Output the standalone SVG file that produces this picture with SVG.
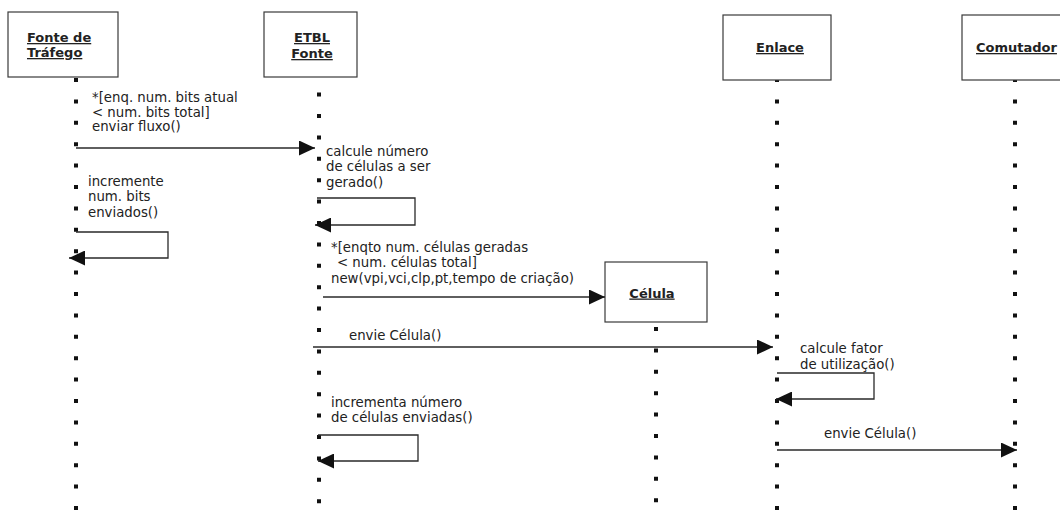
<svg xmlns="http://www.w3.org/2000/svg" width="1060" height="511" viewBox="0 0 1060 511">
  <style>
    .box { fill: #ffffff; stroke: #3a3a3a; stroke-width: 1.2; }
    .name { font-family: "DejaVu Sans", Verdana, sans-serif; font-size: 13px; font-weight: bold; fill: #222; text-decoration: underline; }
    .lbl { font-family: "DejaVu Sans", Verdana, sans-serif; font-size: 13.3px; fill: #222; }
    .life { stroke: #111; stroke-width: 4; stroke-dasharray: 4 17.4; fill: none; }
    .msg { stroke: #2a2a2a; stroke-width: 1.3; fill: none; marker-end: url(#head); }
  </style>
  <defs>
    <marker id="head" viewBox="0 0 16 15" refX="16" refY="7.5" markerUnits="userSpaceOnUse" markerWidth="16" markerHeight="15" orient="auto">
      <path d="M0,0 L16,7.5 L0,15 z" fill="#111"/>
    </marker>
  </defs>
  <rect width="1060" height="511" fill="#ffffff"/>

  <!-- lifelines -->
  <g id="lifelines">
    <line class="life" x1="76" y1="78" x2="76" y2="511"/>
    <line class="life" x1="319" y1="71.2" x2="319" y2="511"/>
    <line class="life" x1="777" y1="78" x2="777" y2="511"/>
    <line class="life" x1="1015" y1="78" x2="1015" y2="511"/>
    <line class="life" x1="656" y1="327" x2="656" y2="511"/>
  </g>

  <!-- objects -->
  <g id="fonte-trafego">
    <rect class="box" x="8" y="12" width="110" height="65"/>
    <text class="name" x="27" y="42">Fonte de</text>
    <text class="name" x="27" y="57">Tráfego</text>
  </g>
  <g id="etbl-fonte">
    <rect class="box" x="264" y="12" width="93" height="65"/>
    <text class="name" x="312" y="42" text-anchor="middle">ETBL</text>
    <text class="name" x="312" y="58" text-anchor="middle">Fonte</text>
  </g>
  <g id="enlace">
    <rect class="box" x="723" y="15" width="108" height="65"/>
    <text class="name" x="780" y="52" text-anchor="middle">Enlace</text>
  </g>
  <g id="comutador">
    <rect class="box" x="962" y="15" width="110" height="65"/>
    <text class="name" x="976" y="52">Comutador</text>
  </g>
  <g id="celula">
    <rect class="box" x="605" y="262" width="102" height="60"/>
    <text class="name" x="652" y="297.5" text-anchor="middle">Célula</text>
  </g>

  <!-- messages -->
  <g id="connectors">
    <path class="msg" d="M76,148 H315"/>
    <path class="msg" d="M76,232 H168 V258 H69"/>
    <path class="msg" d="M317,198 H415 V225 H315"/>
    <path class="msg" d="M323,297 H605"/>
    <path class="msg" d="M313,347 H773"/>
    <path class="msg" d="M777,373 H874 V399 H776"/>
    <path class="msg" d="M318,435 H418 V461 H318"/>
    <path class="msg" d="M777,450 H1017"/>
  </g>

  <!-- message labels -->
  <g id="labels">
    <text class="lbl" x="92" y="102">*[enq. num. bits atual</text>
    <text class="lbl" x="92" y="116.5">&lt; num. bits total]</text>
    <text class="lbl" x="92" y="131">enviar fluxo()</text>

    <text class="lbl" x="88" y="185.5">incremente</text>
    <text class="lbl" x="88" y="201">num. bits</text>
    <text class="lbl" x="88" y="216.5">enviados()</text>

    <text class="lbl" x="326" y="155.5">calcule número</text>
    <text class="lbl" x="326" y="171">de células a ser</text>
    <text class="lbl" x="326" y="186.5">gerado()</text>

    <text class="lbl" x="331" y="251.5">*[enqto num. células geradas</text>
    <text class="lbl" x="337" y="267">&lt; num. células total]</text>
    <text class="lbl" x="331" y="282.5">new(vpi,vci,clp,pt,tempo de criação)</text>

    <text class="lbl" x="349" y="340">envie Célula()</text>

    <text class="lbl" x="800" y="353">calcule fator</text>
    <text class="lbl" x="800" y="368.5">de utilização()</text>

    <text class="lbl" x="331" y="406.5">incrementa número</text>
    <text class="lbl" x="331" y="422">de células enviadas()</text>

    <text class="lbl" x="824" y="437.5">envie Célula()</text>
  </g>
</svg>
